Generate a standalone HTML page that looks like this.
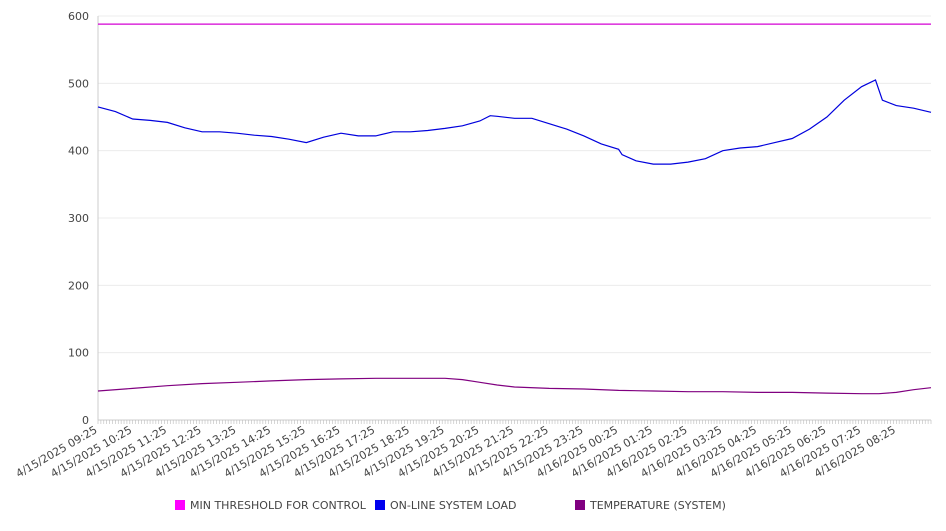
<!DOCTYPE html>
<html><head><meta charset="utf-8">
<style>
body{margin:0;background:#fff;}
svg{font-family:"DejaVu Sans","Liberation Sans",sans-serif;}
</style></head>
<body>
<svg id="chart" width="946" height="526"></svg>
<script>
const yTicks=[0,100,200,300,400,500,600];
const xLabels=["4/15/2025 09:25","4/15/2025 10:25","4/15/2025 11:25","4/15/2025 12:25","4/15/2025 13:25","4/15/2025 14:25","4/15/2025 15:25","4/15/2025 16:25","4/15/2025 17:25","4/15/2025 18:25","4/15/2025 19:25","4/15/2025 20:25","4/15/2025 21:25","4/15/2025 22:25","4/15/2025 23:25","4/16/2025 00:25","4/16/2025 01:25","4/16/2025 02:25","4/16/2025 03:25","4/16/2025 04:25","4/16/2025 05:25","4/16/2025 06:25","4/16/2025 07:25","4/16/2025 08:25"];
// half-hour samples, hours from 09:25
const loadHours=[0,0.5,1,1.5,2,2.5,3,3.5,4,4.5,5,5.5,6,6.5,7,7.5,8,8.5,9,9.5,10,10.5,11,11.3,11.5,12,12.5,13,13.5,14,14.5,15,15.1,15.5,16,16.5,17,17.5,18,18.5,19,19.5,20,20.5,21,21.5,22,22.4,22.6,23,23.5,24];
const loadValues=[465,458,447,445,442,434,428,428,426,423,421,417,412,420,426,422,422,428,428,430,433,437,444,452,451,448,448,440,432,422,410,402,394,385,380,380,383,388,400,404,406,412,418,432,450,475,495,505,475,467,463,457];
const tempHours=[0,1,2,3,4,5,6,7,8,9,10,10.5,11,11.5,12,13,14,15,16,17,18,19,20,21,22,22.5,23,23.5,24];
const tempValues=[43,47,51,54,56,58,60,61,62,62,62,60,56,52,49,47,46,44,43,42,42,41,41,40,39,39,41,45,48];
const threshHours=[0,24];
const threshValues=[588,588];

const svg=document.getElementById('chart');
const NS='http://www.w3.org/2000/svg';
const X0=98,X1=931,Y0=420,Y1=16;
const xs=h=>X0+(X1-X0)*h/24;
const ys=v=>Y0-(Y0-Y1)*v/600;
function mk(t,a){const e=document.createElementNS(NS,t);for(const k in a)e.setAttribute(k,a[k]);svg.appendChild(e);return e;}

yTicks.forEach(v=>{
  const g=mk('line',{x1:X0,x2:X1,y1:ys(v),y2:ys(v),stroke:v===0?'#ccc':'#ececec','stroke-width':1});
  
  
  const t=mk('text',{x:X0-9,y:ys(v)+4,'text-anchor':'end','font-size':11,fill:'#444'});
  t.textContent=v;
  
  
});
const ax=mk('line',{x1:X0,x2:X0,y1:Y1,y2:Y0,stroke:'#ccc'});


for(let i=0;i<=288;i++){
  const x=X0+(X1-X0)*i/288;
  const m=mk('line',{x1:x,x2:x,y1:Y0,y2:Y0+4,stroke:'#bbb','stroke-width':0.6});
  
  
}
xLabels.forEach((l,i)=>{
  const x=xs(i);
  const t=mk('text',{x:x,y:Y0+12,'text-anchor':'end','font-size':11,fill:'#444',transform:`rotate(-30 ${x} ${Y0+12})`});
  t.textContent=l;
  
  
});
function line(hs,vs,color,name){
  const d=hs.map((h,i)=>(i?'L':'M')+xs(h).toFixed(1)+','+ys(vs[i]).toFixed(1)).join(' ');
  const p=mk('path',{d:d,fill:'none',stroke:color,'stroke-width':1.2});
  
  
}
line(threshHours,threshValues,'#d400d4','min-threshold-line');
line(loadHours,loadValues,'#0000dd','online-system-load-line');
line(tempHours,tempValues,'#800080','temperature-line');

const legend=[["MIN THRESHOLD FOR CONTROL","#ff00ff",175],["ON-LINE SYSTEM LOAD","#0000ee",375],["TEMPERATURE (SYSTEM)","#800080",575]];
legend.forEach(([n,c,x])=>{
  const r=mk('rect',{x:x,y:500,width:10,height:10,fill:c});
  
  
  const t=mk('text',{x:x+15,y:509,'font-size':11,fill:'#444'});
  t.textContent=n;
  
  
});
</script>
</body></html>
